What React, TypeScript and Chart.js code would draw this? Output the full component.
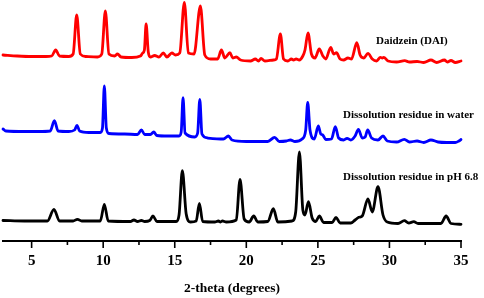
import React, { useEffect, useRef } from "react";
import { Chart, registerables } from "chart.js";

Chart.register(...registerables);

// 2-theta positions (degrees) and relative intensities
const RED_2THETA = [3.0,4.0,5.0,6.0,6.4,6.68,6.95,7.6,7.9,8.15,8.4,8.8,9.6,9.9,10.15,10.4,10.8,11.0,11.25,12.0,12.6,12.76,12.88,13.0,13.15,13.3,13.6,13.9,14.2,14.45,14.8,15.05,15.35,15.67,15.95,16.35,16.79,17.1,17.5,18.0,18.26,18.5,18.86,19.05,19.3,19.6,20.3,20.63,20.85,21.03,21.3,21.9,22.1,22.38,22.6,22.9,23.15,23.3,23.48,23.7,23.95,24.1,24.31,24.55,24.8,25.1,25.35,25.55,25.9,26.1,26.3,26.55,26.8,27.1,27.35,27.72,27.95,28.2,28.5,28.8,29.1,29.37,29.5,29.6,29.9,30.5,31.07,31.4,31.93,32.4,32.9,33.3,33.84,34.05,34.3,34.6,35.0];
const RED_INT = [10,9,8.5,8.5,9,15,9,8.5,11,50,11,8.5,8,11,54,11,9,11,8,7.5,9,12,15,41,13,8,9.5,8,12,8,12,10,12,62.7,12,11,59,10,6,6,15,7,12.3,7,8,5,4,6,4,6.5,4,5,6,31,6,4,6,5,6,5,9,15,32,11,7,16,9,6,17.7,11,12.3,6,5,7,6,22.3,10,7,11.7,6,4,7.7,7,7.7,4,3,4.3,3,3.5,2.5,5,2.5,5,3,4.5,2.5,4];

const BLUE_2THETA = [3.0,3.2,4.5,5.5,6.3,6.59,6.85,7.6,8.0,8.17,8.35,9.0,9.8,9.95,10.08,10.22,10.4,11.5,12.4,12.67,12.9,13.3,13.53,13.75,14.5,15.3,15.45,15.58,15.72,16.4,16.6,16.75,16.9,17.3,18.4,18.75,19.0,20.0,21.5,21.98,22.3,22.8,23.08,23.4,23.9,24.15,24.29,24.45,24.75,25.03,25.2,25.34,25.55,25.95,26.22,26.45,26.8,27.04,27.3,27.6,27.83,28.1,28.3,28.48,28.75,29.2,29.55,29.85,30.5,31.04,31.4,31.93,32.4,32.9,33.4,34.0,34.6,34.85,35.0];
const BLUE_INT = [14,12,11.5,11.5,12,22.3,12,11.5,13,17.7,12,10.5,10.5,15,57,15,9.5,9,8.5,13,8.5,8.5,11,7.5,7,7,11,45.3,10,6,10,43.7,9,5,4,7,3,1.5,1.5,5.7,1.5,2,3,1.5,4,13,40.7,13,4,17,9,8,3.5,4,16.3,5,3,4.7,3,7,13.7,5,6,13,5,3,7,2,1,3.7,1,2,0.5,3,1,0.5,0.5,2,3.5];

const BLACK_2THETA = [3.0,4.5,6.1,6.56,6.95,7.9,8.2,8.5,9.8,10.08,10.35,11.9,12.15,12.4,12.67,12.9,13.25,13.48,13.75,15.1,15.3,15.53,15.8,16.1,16.5,16.72,16.95,17.8,18.05,18.2,18.33,18.6,19.3,19.56,19.85,20.2,20.52,20.8,21.5,21.89,22.2,23.2,23.45,23.71,23.95,24.1,24.34,24.6,24.85,25.1,25.4,26.0,26.27,26.55,27.3,27.6,27.86,28.1,28.5,28.8,29.2,29.55,29.85,30.6,31.04,31.35,31.7,32.0,33.6,33.96,34.3,35.0];
const BLACK_INT = [4.5,4,4,15.7,4,4,5.7,4,4,20.7,4,3.5,5,3.5,4.5,3.5,4.5,9,3.5,3.5,10,54.3,11,3,4,21.7,3.5,3,4,3,4,3,5,45.7,6,3,9,3,3.5,16.3,3,4,13,73,15,10,23.3,7,3.5,9,2.5,2.5,7.7,2,2,5,7.7,9,26,13,38.3,10,3,1.5,4.3,2,3.3,1.5,1.5,9,1.5,0.7];

const SERIES_NAMES = ["Daidzein (DAI)", "Dissolution residue in water", "Dissolution residue in pH 6.8"];
const SERIES_OFFSETS = [176, 98, 16];
const SERIES_COLORS = ["#ff0000", "#0000ff", "#000000"];

const X_TICKS = [5, 10, 15, 20, 25, 30, 35];
const X_MINOR_TICKS = [7.5, 12.5, 17.5, 22.5, 27.5, 32.5];

// annotation anchors in data units (2-theta, stacked intensity)
const LABEL_X = [29.06, 26.76, 26.76];
const LABEL_Y = [200, 126, 63.7];

const FONT = '"Liberation Serif", "Times New Roman", serif';

export default function App() {
  const ref = useRef<HTMLCanvasElement | null>(null);

  useEffect(() => {
    if (!ref.current) return;
    const xsList = [RED_2THETA, BLUE_2THETA, BLACK_2THETA];
    const ysList = [RED_INT, BLUE_INT, BLACK_INT];

    const datasets = xsList.map((xs, i) => ({
      label: SERIES_NAMES[i],
      data: xs.map((x, j) => ({ x, y: ysList[i][j] + SERIES_OFFSETS[i] })),
      borderColor: SERIES_COLORS[i],
      backgroundColor: SERIES_COLORS[i],
      borderWidth: 2.8,
      borderJoinStyle: "round" as const,
      borderCapStyle: "round" as const,
      pointRadius: 0,
      cubicInterpolationMode: "monotone" as const,
      clip: false as any,
    }));

    const ticksPlugin = {
      id: "minorTicks",
      afterDraw(chart: any) {
        const ctx = chart.ctx;
        const xs = chart.scales.x;
        const top = xs.top;
        ctx.save();
        ctx.strokeStyle = "#000";
        ctx.lineWidth = 1.6;
        X_TICKS.forEach((v) => {
          const px = xs.getPixelForValue(v);
          ctx.beginPath();
          ctx.moveTo(px, top);
          ctx.lineTo(px, top + 7);
          ctx.stroke();
        });
        X_MINOR_TICKS.forEach((v) => {
          const px = xs.getPixelForValue(v);
          ctx.beginPath();
          ctx.moveTo(px, top);
          ctx.lineTo(px, top + 4);
          ctx.stroke();
        });
        // series annotations
        const ys = chart.scales.y;
        ctx.fillStyle = "#000";
        ctx.font = `bold 11px ${FONT}`;
        ctx.textAlign = "left";
        ctx.textBaseline = "middle";
        SERIES_NAMES.forEach((name, i) => {
          ctx.fillText(name, xs.getPixelForValue(LABEL_X[i]), ys.getPixelForValue(LABEL_Y[i]));
        });
        ctx.restore();
      },
    };

    const chart = new Chart(ref.current, {
      type: "line",
      data: { datasets },
      options: {
        animation: false,
        responsive: true,
        maintainAspectRatio: false,
        layout: { padding: { left: 3, right: 23, top: 0, bottom: 0 } },
        plugins: { legend: { display: false }, tooltip: { enabled: false } },
        scales: {
          x: {
            type: "linear",
            min: 3,
            max: 35,
            afterBuildTicks: (scale: any) => {
              scale.ticks = X_TICKS.map((v) => ({ value: v }));
            },
            afterFit: (scale: any) => {
              scale.height = 57;
            },
            grid: { display: false, drawTicks: false },
            border: { display: true, color: "#000", width: 2 },
            ticks: {
              color: "#000",
              font: { family: FONT, size: 15, weight: "bold" },
              padding: 11,
              maxRotation: 0,
              autoSkip: false,
            },
            title: {
              display: true,
              text: "2-theta (degrees)",
              color: "#000",
              font: { family: FONT, size: 13.5, weight: "bold" },
              padding: { top: 0, bottom: 1 },
            },
          },
          y: {
            display: false,
            min: 0,
            max: 241,
          },
        },
      },
      plugins: [ticksPlugin],
    });
    return () => chart.destroy();
  }, []);

  return (
    <div style={{ position: "fixed", left: 0, top: 0, width: 484, height: 298, background: "#fff" }}>
      <canvas ref={ref} />
    </div>
  );
}
